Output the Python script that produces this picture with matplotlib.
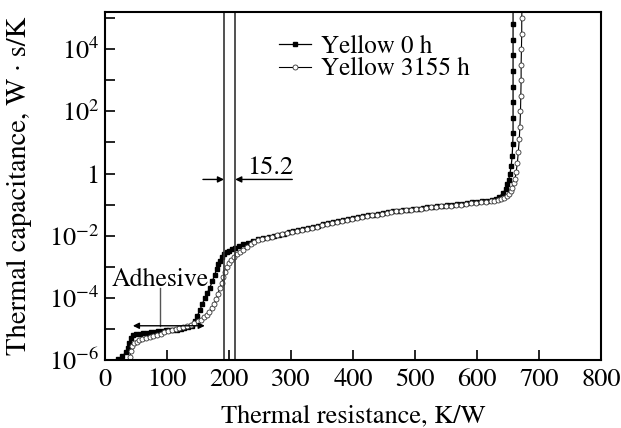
import numpy as np
import matplotlib
matplotlib.use("Agg")
import matplotlib.pyplot as plt
from matplotlib.ticker import NullLocator

plt.rcParams['font.family'] = ['STIXGeneral', 'Liberation Serif', 'DejaVu Serif']
plt.rcParams['mathtext.fontset'] = 'stix'

# Yellow 0 h : thermal resistance (K/W) and log10 of thermal capacitance (W s/K)
r_0h = [21, 28, 34, 37, 39, 42, 45, 50, 56, 62, 68, 74, 80, 86, 92, 98, 104, 110,
        116, 122, 128, 134, 140, 145, 149, 153, 157, 161, 165, 169, 173, 177, 180,
        183, 186, 189, 192, 196, 200, 205, 210, 216, 223, 230, 238, 246, 255, 264,
        272, 280, 288, 296, 304, 312, 320, 328, 336, 344, 352, 360, 368, 376, 384,
        392, 400, 408, 416, 424, 432, 440, 448, 456, 464, 472, 480, 488, 496, 504,
        512, 520, 528, 536, 544, 552, 560, 568, 576, 584, 592, 600, 608, 616, 624,
        630, 636, 642, 646, 649, 651, 653, 655, 656.5, 657.5, 658, 658, 658, 658,
        658, 658, 658, 658, 658]
logc_0h = [-5.97, -5.88, -5.75, -5.6, -5.45, -5.3, -5.2, -5.17, -5.15, -5.13, -5.12,
           -5.11, -5.10, -5.08, -5.07, -5.05, -5.04, -5.03, -5.02, -5.0, -4.98, -4.95,
           -4.90, -4.75, -4.58, -4.40, -4.20, -4.0, -3.84, -3.68, -3.47, -3.26, -3.08,
           -2.92, -2.80, -2.69, -2.60, -2.54, -2.49, -2.44, -2.39, -2.33, -2.28, -2.22,
           -2.16, -2.12, -2.08, -2.05, -2.01, -1.97, -1.93, -1.89, -1.86, -1.82, -1.79,
           -1.75, -1.72, -1.68, -1.64, -1.60, -1.57, -1.53, -1.50, -1.47, -1.44, -1.41,
           -1.38, -1.35, -1.32, -1.29, -1.27, -1.24, -1.22, -1.20, -1.18, -1.16, -1.14,
           -1.13, -1.11, -1.09, -1.07, -1.05, -1.04, -1.02, -1.00, -0.99, -0.97, -0.95,
           -0.93, -0.91, -0.89, -0.87, -0.85, -0.82, -0.74, -0.62, -0.50, -0.35, -0.20,
           0.0, 0.25, 0.55, 0.95, 1.3, 1.8, 2.3, 2.8, 3.3, 3.8, 4.3, 4.8, 5.3]

# Yellow 3155 h
r_3155h = [38, 40, 42, 44, 47, 51, 55, 60, 66, 72, 78, 84, 90, 96, 102, 108, 114, 120,
           126, 132, 138, 144, 150, 155, 160, 164, 168, 172, 176, 179, 182, 185, 188,
           191, 194, 197, 200, 204, 208, 213, 218, 223, 229, 235, 241, 247, 254, 262,
           270, 278, 286, 294, 302, 310, 318, 326, 334, 342, 350, 358, 366, 374, 382,
           390, 398, 406, 414, 422, 430, 438, 446, 454, 462, 470, 478, 486, 494, 502,
           510, 518, 526, 534, 542, 550, 558, 566, 574, 582, 590, 598, 606, 614, 622,
           628, 634, 639, 644, 648, 651, 654, 657, 659, 661, 663, 665, 666.5, 668, 669,
           670, 670.5, 671, 671, 671.5, 672, 672, 672.5]
logc_3155h = [-6.05, -5.9, -5.7, -5.55, -5.47, -5.42, -5.37, -5.32, -5.28, -5.25, -5.22,
              -5.19, -5.15, -5.11, -5.07, -5.04, -5.01, -4.98, -4.95, -4.91, -4.87, -4.82,
              -4.76, -4.70, -4.62, -4.54, -4.45, -4.34, -4.20, -4.05, -3.88, -3.70, -3.52,
              -3.34, -3.16, -3.00, -2.88, -2.78, -2.69, -2.60, -2.52, -2.45, -2.36, -2.28,
              -2.20, -2.14, -2.10, -2.06, -2.03, -1.99, -1.95, -1.92, -1.88, -1.85, -1.81,
              -1.78, -1.74, -1.71, -1.67, -1.63, -1.60, -1.57, -1.53, -1.50, -1.47, -1.44,
              -1.41, -1.38, -1.35, -1.32, -1.30, -1.27, -1.25, -1.22, -1.20, -1.18, -1.16,
              -1.15, -1.13, -1.11, -1.09, -1.08, -1.06, -1.04, -1.03, -1.01, -1.00, -0.98,
              -0.96, -0.94, -0.92, -0.90, -0.89, -0.87, -0.85, -0.82, -0.78, -0.72, -0.65,
              -0.56, -0.45, -0.30, -0.18, 0.05, 0.35, 0.7, 1.1, 1.5, 2.0, 2.5, 3.0, 3.5,
              4.0, 4.5, 5.0, 5.4]

line_a, line_b = 192, 210          # vertical marker lines
gap_label = "15.2"

fig = plt.figure(figsize=(6.21, 4.28), dpi=100)
ax = fig.add_axes([0.169, 0.159, 0.799, 0.813])

ax.plot(r_0h, 10 ** np.array(logc_0h), color='black', lw=0.9, marker='s',
        ms=3.2, mfc='black', mec='black', label='Yellow 0 h')
ax.plot(r_3155h, 10 ** np.array(logc_3155h), color='black', lw=0.8, marker='o',
        ms=3.6, mfc='white', mec='#333333', mew=0.6, label='Yellow 3155 h')

ax.set_yscale('log')
ax.set_xlim(0, 800)
ax.set_ylim(1e-6, 10 ** 5.2)

yt = [10.0 ** k for k in range(-6, 6)]
ylab = []
for k in range(-6, 6):
    if k % 2:
        ylab.append('')
    elif k == 0:
        ylab.append('1')
    else:
        ylab.append(r'$10^{%d}$' % k)
ax.set_yticks(yt)
ax.set_yticklabels(ylab)
ax.yaxis.set_minor_locator(NullLocator())
ax.set_xticks(range(0, 801, 100))
ax.tick_params(direction='in', length=7, width=1.2, labelsize=19)
ax.tick_params(axis='x', pad=6)
ax.tick_params(axis='y', pad=4)
for s in ax.spines.values():
    s.set_linewidth(1.5)

ax.set_xlabel('Thermal resistance, K/W', fontsize=19, labelpad=9)
ax.set_ylabel('Thermal capacitance, W \u00b7 s/K', fontsize=20.5, labelpad=12)

# vertical lines and the 15.2 gap annotation
ax.axvline(line_a, color='#333333', lw=1.2)
ax.axvline(line_b, color='#333333', lw=1.2)
ya = 10 ** -0.19
ax.annotate('', xy=(line_a, ya), xytext=(158, ya),
            arrowprops=dict(arrowstyle='-|>', color='black', lw=1, mutation_scale=9,
                            shrinkA=0, shrinkB=0))
ax.annotate('', xy=(line_b, ya), xytext=(302, ya),
            arrowprops=dict(arrowstyle='-|>', color='black', lw=1, mutation_scale=9,
                            shrinkA=0, shrinkB=0))
ax.text(266, 10 ** -0.02, gap_label, ha='center', va='baseline', fontsize=19)

# adhesive annotation
yb = 10 ** -4.9
ax.annotate('', xy=(45, yb), xytext=(161, yb),
            arrowprops=dict(arrowstyle='<|-|>', color='black', lw=1, mutation_scale=9,
                            shrinkA=0, shrinkB=0))
ax.plot([89, 89], [10 ** -3.68, yb], color='#555555', lw=1)
ax.text(89, 10 ** -3.42, 'Adhesive', ha='center', va='center', fontsize=18.5)

ax.legend(loc='upper left', bbox_to_anchor=(0.35, 0.935), frameon=False,
          fontsize=18, handlelength=1.3, handletextpad=0.4, labelspacing=-0.05,
          borderpad=0, borderaxespad=0)

fig.savefig('out.png', dpi=100)
